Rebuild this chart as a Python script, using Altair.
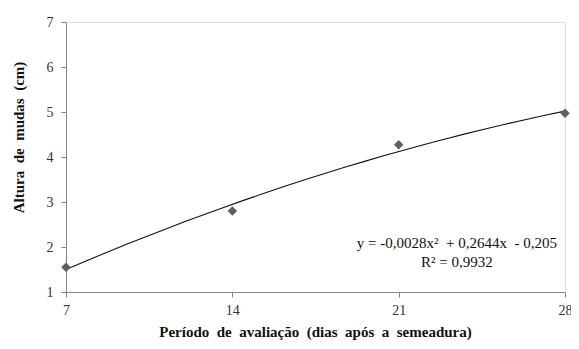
import altair as alt
import pandas as pd

dias = [7, 14, 21, 28]
altura = [1.55, 2.8, 4.27, 4.97]
eq_text = ["y = -0,0028x²\u00a0 + 0,2644x\u00a0 - 0,205", "R² = 0,9932"]
eq_x = [23.45, 23.45]
eq_y = [2.09, 1.66]

df = pd.DataFrame({"dias": dias, "altura": altura})
df_eq = pd.DataFrame({"t": eq_text, "x": eq_x, "y": eq_y})

FONT = "Liberation Serif"

xscale = alt.Scale(domain=[7, 28], nice=False, zero=False)
yscale = alt.Scale(domain=[1, 7], nice=False, zero=False)

xaxis = alt.Axis(values=dias,
                 title="Período\u00a0 de\u00a0 avaliação\u00a0 (dias\u00a0 após\u00a0 a\u00a0 semeadura)",
                 grid=False, domainColor="#868686", tickColor="#868686", tickSize=5,
                 labelFont=FONT, labelFontSize=14, labelColor="#333333", labelPadding=6,
                 labelFlush=False,
                 titleFont=FONT, titleFontSize=15, titleFontWeight="bold", titleColor="#111111",
                 titleX=249, titleY=44, titleBaseline="alphabetic")
yaxis = alt.Axis(values=[1, 2, 3, 4, 5, 6, 7], title="Altura\u00a0 de\u00a0 mudas\u00a0 (cm)",
                 grid=False, domainColor="#868686", tickColor="#868686", tickSize=5,
                 labelFont=FONT, labelFontSize=14, labelColor="#333333", labelPadding=8,
                 titleFont=FONT, titleFontSize=15, titleFontWeight="bold", titleColor="#111111",
                 titleX=-48, titleY=115, titleBaseline="middle", titleAngle=270)

base = alt.Chart(df)

points = base.mark_point(shape="diamond", filled=True, color="#5f5f5f", size=90, opacity=1).encode(
    x=alt.X("dias:Q", scale=xscale, axis=xaxis),
    y=alt.Y("altura:Q", scale=yscale, axis=yaxis),
)

trend = base.transform_regression("dias", "altura", method="poly", order=2, extent=[7, 28]).mark_line(
    color="#111111", strokeWidth=1.1
).encode(
    x=alt.X("dias:Q", scale=xscale),
    y=alt.Y("altura:Q", scale=yscale),
)

eq = alt.Chart(df_eq).mark_text(font=FONT, fontSize=15, color="#111111", align="center").encode(
    x=alt.X("x:Q", scale=xscale),
    y=alt.Y("y:Q", scale=yscale),
    text="t:N",
)

chart = alt.layer(trend, points, eq).properties(
    width=499, height=270,
    padding={"left": 58, "top": 14, "right": 6, "bottom": 49},
    autosize=alt.AutoSizeParams(type="none"),
).configure_view(stroke=None).configure(background="white")

chart.save("out.html", embed_options={"renderer": "svg", "actions": False})
